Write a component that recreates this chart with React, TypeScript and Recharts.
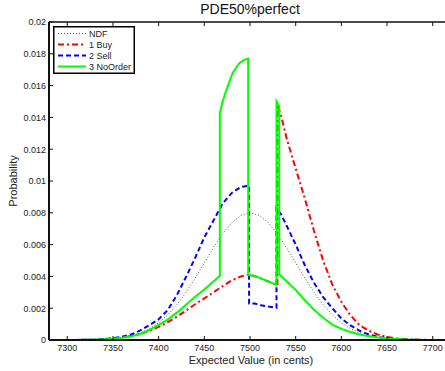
import React from 'react';
import { LineChart, Line, XAxis, YAxis, Legend } from 'recharts';

const titleText = 'PDE50%perfect';
const xLabelText = 'Expected Value (in cents)';
const yLabelText = 'Probability';

const xTicks = [7300, 7350, 7400, 7450, 7500, 7550, 7600, 7650, 7700];
const yTicks = [0, 0.002, 0.004, 0.006, 0.008, 0.01, 0.012, 0.014, 0.016, 0.018, 0.02];
const yTickLabels = ['0', '0.002', '0.004', '0.006', '0.008', '0.01', '0.012', '0.014', '0.016', '0.018', '0.02'];

const seriesNames = ['NDF', '1 Buy', '2 Sell', '3 NoOrder'];

const ndfX = [7290, 7300, 7310, 7320, 7330, 7340, 7350, 7360, 7370, 7380, 7390, 7400, 7410, 7420, 7430, 7440, 7450, 7460, 7470, 7480, 7490, 7500,
  7510, 7520, 7530, 7540, 7550, 7560, 7570, 7580, 7590, 7600, 7610, 7620, 7630, 7640, 7650, 7660, 7670, 7680, 7690, 7700, 7710];
const ndfY = [0.000001, 0.000003, 0.000006, 0.000012, 0.000025, 0.000048, 0.000089, 0.000159, 0.000272, 0.000449, 0.000711, 0.00108, 0.00158, 0.00222, 0.003, 0.0039, 0.00485, 0.00581, 0.00668, 0.00738, 0.00784, 0.008,
  0.00784, 0.00738, 0.00668, 0.00581, 0.00485, 0.0039, 0.003, 0.00222, 0.00158, 0.00108, 0.000711, 0.000449, 0.000272, 0.000159, 0.000089, 0.000048, 0.000025, 0.000012, 0.000006, 0.000003, 0.000001];

const buyX = [7290, 7300, 7310, 7320, 7330, 7340, 7350, 7360, 7370, 7380, 7390, 7400, 7410, 7420, 7430, 7440, 7450, 7460, 7470, 7480, 7490, 7498,
  7505, 7510, 7520, 7530, 7530, 7534, 7540, 7550, 7560, 7570, 7580, 7590, 7600, 7610, 7620, 7630, 7640, 7650, 7660, 7670, 7680, 7690, 7700, 7710];
const buyY = [0.000001, 0.000003, 0.000006, 0.000012, 0.000025, 0.00005, 0.00009, 0.00015, 0.00025, 0.00038, 0.00058, 0.00082, 0.00112, 0.00146, 0.00185, 0.00225, 0.00262, 0.003, 0.00338, 0.00375, 0.004, 0.0041,
  0.00402, 0.00392, 0.00368, 0.00344, 0.0148, 0.0141, 0.0127, 0.01078, 0.0089, 0.00687, 0.005, 0.0035, 0.0024, 0.00155, 0.00093, 0.00058, 0.00034, 0.00019, 0.0001, 0.00005, 0.000025, 0.00001, 0.000005, 0.000002];

const sellX = [7290, 7300, 7310, 7320, 7330, 7340, 7350, 7360, 7370, 7380, 7390, 7400, 7410, 7420, 7430, 7440, 7450, 7460, 7470, 7480, 7490, 7499,
  7499, 7505, 7512, 7520, 7529, 7529, 7534, 7540, 7550, 7560, 7570, 7580, 7590, 7600, 7610, 7620, 7630, 7640, 7650, 7660, 7670, 7680, 7690, 7700, 7710];
const sellY = [0.000001, 0.000003, 0.000007, 0.000015, 0.00003, 0.00006, 0.00011, 0.0002, 0.00035, 0.0006, 0.00094, 0.0013, 0.00189, 0.00283, 0.00397, 0.00517, 0.00646, 0.00751, 0.00858, 0.00925, 0.00962, 0.0097,
  0.0023, 0.0023, 0.00218, 0.0021, 0.00203, 0.0083, 0.0079, 0.0072, 0.006, 0.0047, 0.0036, 0.0027, 0.002, 0.00135, 0.00092, 0.00058, 0.00035, 0.00019, 0.0001, 0.00005, 0.000025, 0.00001, 0.000005, 0.000002, 0.000001];

const noOrderX = [7290, 7300, 7310, 7320, 7330, 7340, 7350, 7360, 7370, 7380, 7390, 7400, 7410, 7420, 7430, 7440, 7450, 7460, 7467,
  7467, 7470, 7474, 7481, 7488, 7493, 7498, 7498, 7505, 7510, 7515, 7520, 7525, 7529, 7529, 7532, 7532,
  7540, 7550, 7560, 7570, 7580, 7590, 7600, 7610, 7620, 7630, 7640, 7650, 7660, 7670, 7680, 7690, 7700, 7710];
const noOrderY = [0.000001, 0.000003, 0.000006, 0.000012, 0.000022, 0.00004, 0.00008, 0.00014, 0.00023, 0.00038, 0.00063, 0.00095, 0.00128, 0.00172, 0.00222, 0.00272, 0.00318, 0.00368, 0.00404,
  0.01426, 0.015, 0.0157, 0.0168, 0.0174, 0.0176, 0.0177, 0.0041, 0.00402, 0.00392, 0.0038, 0.00368, 0.00356, 0.00346, 0.015, 0.0147, 0.00413,
  0.0037, 0.00315, 0.0025, 0.0019, 0.0014, 0.00097, 0.0007, 0.0005, 0.00035, 0.00024, 0.00016, 0.0001, 0.00006, 0.00003, 0.000015, 0.000007, 0.000003, 0.000001];

const toPoints = (xs: number[], ys: number[]) => xs.map((x, i) => ({ x, y: ys[i] }));

const ndfData = toPoints(ndfX, ndfY);
const buyData = toPoints(buyX, buyY);
const sellData = toPoints(sellX, sellY);
const noOrderData = toPoints(noOrderX, noOrderY);

const FONT = '"Liberation Sans", Arial, Helvetica, sans-serif';
const AXIS = '#111111';

const styles = [
  { color: '#555555', dash: '1 2', width: 1 },
  { color: '#ff0000', dash: '6 3 2 3', width: 2 },
  { color: '#0000ff', dash: '5 3', width: 2 },
  { color: '#00ff00', dash: undefined as string | undefined, width: 2 },
];

const BottomTick = (props: any) => {
  const { x, y, payload } = props;
  return (
    <g>
      <line x1={x} x2={x} y1={y} y2={y - 4} stroke={AXIS} strokeWidth={1} />
      <text x={x} y={y + 11} textAnchor="middle" fontSize={9} fill="#222" fontFamily={FONT}>
        {payload.value}
      </text>
    </g>
  );
};

const TopTick = (props: any) => {
  const { x, y } = props;
  return <line x1={x} x2={x} y1={y} y2={y + 4} stroke={AXIS} strokeWidth={1} />;
};

const LeftTick = (props: any) => {
  const { x, y, payload } = props;
  const idx = yTicks.indexOf(payload.value);
  return (
    <g>
      <line x1={x} x2={x + 4} y1={y} y2={y} stroke={AXIS} strokeWidth={1} />
      <text x={x - 3} y={y + 3.3} textAnchor="end" fontSize={9} fill="#222" fontFamily={FONT}>
        {idx >= 0 ? yTickLabels[idx] : String(payload.value)}
      </text>
    </g>
  );
};

const LegendBox = () => (
  <svg width={82} height={48} style={{ display: 'block' }}>
    <rect x={0.75} y={0.75} width={80.5} height={46.5} fill="#fff" stroke="#000" strokeWidth={1.5} />
    {seriesNames.map((name, i) => {
      const cy = 7.5 + i * 11;
      const s = styles[i];
      return (
        <g key={name}>
          <line x1={5} x2={33} y1={cy} y2={cy} stroke={s.color} strokeWidth={s.width} strokeDasharray={s.dash} />
          <text x={36} y={cy + 3.2} fontSize={9} fill="#222" fontFamily={FONT}>{name}</text>
        </g>
      );
    })}
  </svg>
);

export default function App() {
  return (
    <div style={{ position: 'absolute', left: 0, top: 0, width: 445, height: 371, overflow: 'hidden', background: '#fff', fontFamily: FONT }}>
      <div style={{ position: 'absolute', left: 49, top: 0, width: 402, height: 20, textAlign: 'center', fontSize: 14, lineHeight: '18px', color: '#111', fontFamily: FONT }}>
        {titleText}
      </div>
      <LineChart width={455} height={371} margin={{ top: 21, right: 4, bottom: 0, left: 0 }}>
        <XAxis
          dataKey="x"
          type="number"
          domain={[7280, 7720]}
          ticks={xTicks}
          allowDataOverflow
          height={31}
          tickSize={0}
          tickMargin={0}
          tickLine={false}
          tick={BottomTick}
          stroke={AXIS}
          axisLine={{ stroke: AXIS, strokeWidth: 2 }}
          interval={0}
          label={(p: any) => (
            <text x={p.viewBox.x + p.viewBox.width / 2 + 1} y={364} textAnchor="middle" fontSize={11} fill="#222" fontFamily={FONT}>
              {xLabelText}
            </text>
          )}
        />
        <XAxis
          xAxisId="top"
          orientation="top"
          dataKey="x"
          type="number"
          domain={[7280, 7720]}
          ticks={xTicks}
          allowDataOverflow
          height={1}
          tickSize={0}
          tickMargin={0}
          tickLine={false}
          tick={TopTick}
          stroke={AXIS}
          axisLine={{ stroke: AXIS, strokeWidth: 1.5 }}
          interval={0}
        />
        <YAxis
          type="number"
          domain={[0, 0.02]}
          ticks={yTicks}
          allowDataOverflow
          width={49}
          tickSize={0}
          tickMargin={0}
          tickLine={false}
          tick={LeftTick}
          stroke={AXIS}
          axisLine={{ stroke: AXIS, strokeWidth: 2 }}
          interval={0}
          label={(p: any) => (
            <text x={17} y={181} transform="rotate(-90, 17, 181)" textAnchor="middle" fontSize={11} fill="#222" fontFamily={FONT}>
              {yLabelText}
            </text>
          )}
        />
        <Legend
          layout="horizontal"
          verticalAlign="middle"
          align="center"
          wrapperStyle={{ position: 'absolute', left: 53, top: 26, width: 82, height: 48 }}
          content={() => <LegendBox />}
        />
        <Line data={ndfData} dataKey="y" name={seriesNames[0]} type="linear" stroke={styles[0].color} strokeWidth={styles[0].width} strokeDasharray={styles[0].dash} dot={false} activeDot={false} isAnimationActive={false} />
        <Line data={buyData} dataKey="y" name={seriesNames[1]} type="linear" stroke={styles[1].color} strokeWidth={styles[1].width} strokeDasharray={styles[1].dash} dot={false} activeDot={false} isAnimationActive={false} />
        <Line data={sellData} dataKey="y" name={seriesNames[2]} type="linear" stroke={styles[2].color} strokeWidth={styles[2].width} strokeDasharray={styles[2].dash} dot={false} activeDot={false} isAnimationActive={false} />
        <Line data={noOrderData} dataKey="y" name={seriesNames[3]} type="linear" stroke={styles[3].color} strokeWidth={styles[3].width} dot={false} activeDot={false} isAnimationActive={false} />
      </LineChart>
    </div>
  );
}
